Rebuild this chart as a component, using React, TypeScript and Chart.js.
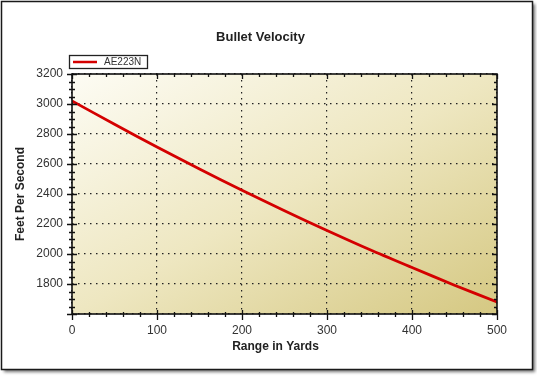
import React, { useEffect, useRef } from "react";
import { Chart, registerables } from "chart.js";

Chart.register(...registerables);

const chartTitle = "Bullet Velocity";
const seriesLabel = "AE223N";
const xAxisTitle = "Range in Yards";
const yAxisTitle = "Feet Per Second";
const rangeYards = [0, 50, 100, 150, 200, 250, 300, 350, 400, 450, 500];
const velocityFps = [3020, 2865, 2713, 2567, 2425, 2288, 2157, 2030, 1910, 1792, 1680];
const xMin = 0;
const xMax = 500;
const xStep = 100;
const xMinorStep = 20;
const yMin = 1600;
const yMax = 3200;
const yStep = 200;
const yMinorStep = 50;
const hiddenYLabels = [1600];

const FONT = '"Liberation Sans", Arial, sans-serif';

const decorPlugin = {
  id: "decor",
  beforeDraw(chart: any) {
    const { ctx, chartArea: a, width, height } = chart;
    ctx.save();
    ctx.fillStyle = "#ffffff";
    ctx.fillRect(0, 0, width, height);
    // outer frame with shadow
    ctx.shadowColor = "rgba(0,0,0,0.55)";
    ctx.shadowBlur = 3;
    ctx.shadowOffsetX = 2.5;
    ctx.shadowOffsetY = 2.5;
    ctx.fillStyle = "#ffffff";
    ctx.fillRect(1.5, 1.5, 531, 368);
    ctx.shadowColor = "transparent";
    ctx.strokeStyle = "#1a1a1a";
    ctx.lineWidth = 1.5;
    ctx.strokeRect(1.5, 1.5, 531, 368);
    // plot background gradient
    const w = a.right - a.left;
    const h = a.bottom - a.top;
    const s = (2 * w * h) / (w * w + h * h);
    const g = ctx.createLinearGradient(a.left, a.top, a.left + h * s, a.top + w * s);
    g.addColorStop(0, "#fdfcf4");
    g.addColorStop(0.5, "#eee7c1");
    g.addColorStop(1, "#d5c882");
    ctx.fillStyle = g;
    ctx.fillRect(a.left, a.top, w, h);
    ctx.restore();
  },
  afterDraw(chart: any) {
    const { ctx, chartArea: a } = chart;
    const xs = chart.scales.x;
    const ys = chart.scales.y;
    ctx.save();
    ctx.strokeStyle = "#111111";
    ctx.lineWidth = 1.3;
    ctx.beginPath();
    for (let v = xMin; v <= xMax; v += xMinorStep) {
      const px = Math.round(xs.getPixelForValue(v)) + 0.5;
      const major = v % xStep === 0;
      ctx.moveTo(px, a.bottom - (major ? 4 : 2));
      ctx.lineTo(px, a.bottom + (major ? 6 : 3));
      ctx.moveTo(px, a.top);
      ctx.lineTo(px, a.top + (major ? 5 : 3));
    }
    for (let v = yMin; v <= yMax; v += yMinorStep) {
      const py = Math.round(ys.getPixelForValue(v)) + 0.5;
      const major = v % yStep === 0;
      ctx.moveTo(a.left - (major ? 5 : 3), py);
      ctx.lineTo(a.left + (major ? 5 : 3), py);
      ctx.moveTo(a.right - (major ? 5 : 3), py);
      ctx.lineTo(a.right, py);
    }
    ctx.stroke();
    ctx.lineWidth = 1.6;
    ctx.strokeRect(a.left, a.top, a.right - a.left, a.bottom - a.top);

    // title
    ctx.fillStyle = "#222222";
    ctx.font = `bold 13px ${FONT}`;
    ctx.textAlign = "center";
    ctx.textBaseline = "middle";
    ctx.fillText(chartTitle, 260.5, 37);

    // x axis title
    ctx.font = `bold 12px ${FONT}`;
    ctx.fillText(xAxisTitle, 275.5, 347);

    // legend
    ctx.fillStyle = "#ffffff";
    ctx.fillRect(69.5, 55.5, 78, 13);
    ctx.strokeStyle = "#222222";
    ctx.lineWidth = 1.3;
    ctx.strokeRect(69.5, 55.5, 78, 13);
    ctx.strokeStyle = "#d40000";
    ctx.lineWidth = 2.5;
    ctx.beginPath();
    ctx.moveTo(73, 62);
    ctx.lineTo(97, 62);
    ctx.stroke();
    ctx.fillStyle = "#333333";
    ctx.font = `10px ${FONT}`;
    ctx.textAlign = "left";
    ctx.fillText(seriesLabel, 104, 62.5);
    ctx.restore();
  },
};

export default function App() {
  const ref = useRef<HTMLCanvasElement | null>(null);
  useEffect(() => {
    document.body.style.margin = "0";
    const canvas = ref.current!;
    const chart = new Chart(canvas, {
      type: "line",
      data: {
        datasets: [
          {
            label: seriesLabel,
            data: rangeYards.map((x, i) => ({ x, y: velocityFps[i] })),
            borderColor: "#d40000",
            borderWidth: 2.8,
            pointRadius: 0,
            tension: 0.3,
            fill: false,
          },
        ],
      },
      options: {
        responsive: false,
        animation: false,
        layout: { padding: { left: 0, right: 40, top: 74, bottom: 0 } },
        plugins: {
          legend: { display: false },
          title: { display: false },
          tooltip: { enabled: false },
        },
        scales: {
          x: {
            type: "linear",
            min: xMin,
            max: xMax,
            ticks: {
              stepSize: xStep,
              padding: 9,
              color: "#333333",
              font: { family: FONT, size: 12 },
              maxRotation: 0,
            },
            grid: { color: "#222222", lineWidth: 1.2, drawTicks: false },
            border: { display: false, dash: [1.5, 4.5] },
            title: { display: false, text: xAxisTitle },
            afterFit: (s: any) => {
              s.height = 62;
            },
          },
          y: {
            type: "linear",
            min: yMin,
            max: yMax,
            ticks: {
              stepSize: yStep,
              padding: 9,
              color: "#333333",
              font: { family: FONT, size: 12 },
              callback: (v: any) => (hiddenYLabels.includes(v) ? "" : String(v)),
            },
            grid: { color: "#222222", lineWidth: 1.2, drawTicks: false },
            border: { display: false, dash: [1.5, 4.5] },
            title: {
              display: true,
              text: yAxisTitle,
              color: "#222222",
              font: { family: FONT, size: 12, weight: "bold" },
              padding: { top: 13, bottom: 0 },
            },
            afterFit: (s: any) => {
              s.width = 72;
            },
          },
        },
      },
      plugins: [decorPlugin],
    } as any);
    return () => chart.destroy();
  }, []);
  return <canvas ref={ref} width={537} height={376} style={{ display: "block" }} />;
}
